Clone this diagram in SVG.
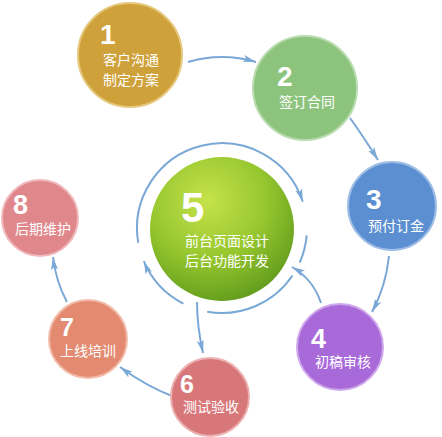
<svg xmlns="http://www.w3.org/2000/svg" width="442" height="437" viewBox="0 0 442 437">
<defs>
<radialGradient id="g5" cx="0.4" cy="0.3" r="0.75">
<stop offset="0" stop-color="#c6e24a"/>
<stop offset="0.55" stop-color="#95c62e"/>
<stop offset="1" stop-color="#5f9a1c"/>
</radialGradient>
<marker id="ah" markerWidth="14" markerHeight="8" refX="13" refY="4" orient="auto" markerUnits="userSpaceOnUse">
<path d="M0,0.5 L13,4 L0,7.5 L3,4 Z" fill="#7aa8d6"/>
</marker>
<style>
.c{stroke-width:2}
.num{font-family:"Liberation Sans",Arial,sans-serif;font-weight:bold;fill:#fff}
.t{font-family:"Noto Sans CJK SC","Liberation Sans",sans-serif;font-size:14px;fill:#fff}
.ln{fill:none;stroke:#7aa8d6;stroke-width:2}
</style>
</defs>
<rect width="442" height="437" fill="#fff"/>
<g id="connectors">
<path class="ln" d="M188,62 Q222,52 256,62" marker-end="url(#ah)"/>
<path class="ln" d="M350,118 Q363,136 378,160" marker-end="url(#ah)"/>
<path class="ln" d="M389,256 Q386,286 372,312" marker-end="url(#ah)"/>
<path class="ln" d="M321,303 Q313,279 292,267" marker-end="url(#ah)"/>
<path class="ln" d="M197,302 Q197,326 203,353" marker-end="url(#ah)"/>
<path class="ln" d="M172,396 Q146,386 120,367" marker-end="url(#ah)"/>
<path class="ln" d="M67,302 Q56,282 53,257" marker-end="url(#ah)"/>
<path class="ln" d="M138.3,242.8 A85,85 0 0 1 302.8,201.7" marker-end="url(#ah)"/>
<path class="ln" d="M306.7,235.4 A85,85 0 0 1 299.7,262.6"/>
<path class="ln" d="M292.5,275.5 A85,85 0 0 1 207.2,311.7"/>
<path class="ln" d="M183.4,303.7 A85,85 0 0 1 143.8,261.2" marker-end="url(#ah)"/>
</g>
<g id="node1">
<circle class="c" cx="130" cy="55" r="52" fill="#cfa13a" stroke="#e6c77e"/>
<text class="num" x="100" y="44" font-size="28">1</text>
<text class="t" x="103" y="65">客户沟通</text>
<text class="t" x="103" y="85">制定方案</text>
</g>
<g id="node2">
<circle class="c" cx="305" cy="88" r="52" fill="#8cc47d" stroke="#b9dcae"/>
<text class="num" x="277" y="86" font-size="28">2</text>
<text class="t" x="279" y="107">签订合同</text>
</g>
<g id="node3">
<circle class="c" cx="392" cy="206" r="44" fill="#5b8fd1" stroke="#9dbde6"/>
<text class="num" x="366" y="209" font-size="28">3</text>
<text class="t" x="368" y="231">预付订金</text>
</g>
<g id="node4">
<circle class="c" cx="340" cy="347" r="43" fill="#a86ad9" stroke="#cfa9ec"/>
<text class="num" x="311" y="348" font-size="27">4</text>
<text class="t" x="315" y="367">初稿审核</text>
</g>
<g id="node5">
<circle cx="222" cy="229" r="72" fill="url(#g5)"/>
<text class="num" x="181" y="222" font-size="42">5</text>
<text class="t" x="185" y="246">前台页面设计</text>
<text class="t" x="185" y="266">后台功能开发</text>
</g>
<g id="node6">
<circle class="c" cx="210" cy="397" r="39" fill="#d8777a" stroke="#ecb0b1"/>
<text class="num" x="180" y="393" font-size="25">6</text>
<text class="t" x="183" y="412">测试验收</text>
</g>
<g id="node7">
<circle class="c" cx="88" cy="339" r="39" fill="#e38a70" stroke="#f1bca9"/>
<text class="num" x="60" y="336" font-size="25">7</text>
<text class="t" x="60" y="356">上线培训</text>
</g>
<g id="node8">
<circle class="c" cx="40" cy="218" r="38" fill="#e0878c" stroke="#f0b8bb"/>
<text class="num" x="13" y="214" font-size="27">8</text>
<text class="t" x="15" y="234">后期维护</text>
</g>
</svg>
